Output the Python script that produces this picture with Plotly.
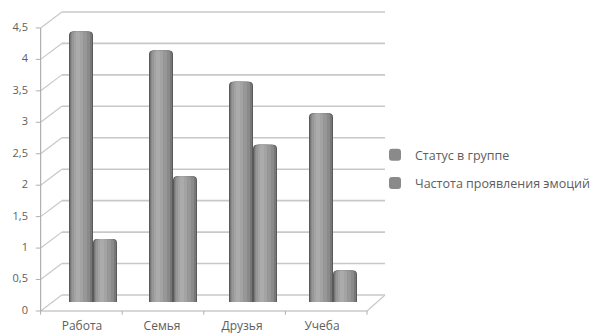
import plotly.graph_objects as go

# Data
categories = ["Работа", "Семья", "Друзья", "Учеба"]
series_names = ["Статус в группе", "Частота проявления эмоций"]
status_values = [4.3, 4.0, 3.5, 3.0]
emotion_values = [1.0, 2.0, 2.5, 0.5]
tick_values = [0, 0.5, 1, 1.5, 2, 2.5, 3, 3.5, 4, 4.5]

# Geometry of the pseudo-3D box (axis units)
PX_X = 80.0      # pixels per category
PX_Y = 62.9      # pixels per value unit
ZERO_PX = 302    # pixel row of the value 0 at bar depth
FRONT_X0, FRONT_X1 = -0.655, 3.425
BACK_X0, BACK_X1 = -0.39, 3.65
FRONT_DY, BACK_DY = -0.143, 0.111
BAR_W = 0.3

GRID = "#c8c8c8"
AXIS = "#b0b0b0"
TEXT = "#5e5e5e"
FONT = "Open Sans"

# Cylinder shading: (left inset px, right inset px, colour)
layers = [
    (0, 0, "#5a5a5a"),
    (1, 1, "#777777"),
    (2, 3, "#8a8a8a"),
    (3, 6, "#979797"),
    (5, 10, "#a3a3a3"),
    (7, 13, "#ababab"),
]
LEGEND_LAYER = 2

fig = go.Figure()
x_pos = list(range(len(categories)))
for s, (name, vals) in enumerate(zip(series_names, [status_values, emotion_values])):
    base_off = -BAR_W if s == 0 else 0.0
    for i, (li, ri, col) in enumerate(layers):
        off = base_off + li / PX_X
        w = BAR_W - (li + ri) / PX_X
        fig.add_trace(go.Bar(
            x=x_pos, y=vals, name=name,
            offset=off, width=w,
            marker=dict(color=col, line=dict(width=0),
                        cornerradius=max(1, 4 - i // 2)),
            legendgroup=f"s{s}",
            showlegend=(i == LEGEND_LAYER),
            hoverinfo="skip" if i != LEGEND_LAYER else None,
        ))

shapes = []
def line(x0, y0, x1, y1, color, width=1.2):
    shapes.append(dict(type="line", xref="x", yref="y", x0=x0, y0=y0,
                       x1=x1, y1=y1, layer="below",
                       line=dict(color=color, width=width)))

for v in tick_values:
    line(BACK_X0, v + BACK_DY, BACK_X1, v + BACK_DY, GRID, 1.6)
    line(FRONT_X0, v + FRONT_DY, BACK_X0, v + BACK_DY, GRID, 1.2)
    line(FRONT_X0 - 0.06, v + FRONT_DY, FRONT_X0, v + FRONT_DY, AXIS, 1)

# front value axis and floor
line(FRONT_X0, FRONT_DY, FRONT_X0, tick_values[-1] + FRONT_DY, AXIS, 1.2)
line(FRONT_X0, FRONT_DY, FRONT_X1, FRONT_DY, AXIS, 1.2)
line(FRONT_X1, FRONT_DY, BACK_X1, BACK_DY, GRID, 1.2)
n = len(categories)
for k in range(n + 1):
    xk = FRONT_X0 + k * (FRONT_X1 - FRONT_X0) / n
    line(xk, FRONT_DY, xk, FRONT_DY - 0.06, AXIS, 1)

L, R, T, B = 33, 386, 5, 317
W, H = 596, 334
x_lo = (L - 93) / PX_X
x_hi = (R - 93) / PX_X
y_hi = (ZERO_PX - T) / PX_Y
y_lo = (ZERO_PX - B) / PX_Y

fig.update_layout(
    width=W, height=H,
    margin=dict(l=L, r=W - R, t=T, b=H - B, pad=0, autoexpand=False),
    paper_bgcolor="white", plot_bgcolor="white",
    barmode="overlay",
    separators=", ",
    font=dict(family=FONT, size=11, color=TEXT),
    shapes=shapes,
    showlegend=True,
    legend=dict(x=(375 - L) / (R - L), y=(B - 140) / (B - T),
                xanchor="left", yanchor="top",
                bgcolor="rgba(0,0,0,0)", tracegroupgap=9,
                font=dict(family=FONT, size=12.5, color=TEXT)),
    xaxis=dict(range=[x_lo, x_hi], tickvals=x_pos, ticktext=categories,
               showgrid=False, zeroline=False, showline=False, ticks="",
               automargin=False,
               ticklabelshift=-11, ticklabelstandoff=0,
               tickfont=dict(size=12, color=TEXT)),
    yaxis=dict(range=[y_lo, y_hi], tickvals=tick_values,
               showgrid=False, zeroline=False, showline=False, ticks="",
               automargin=False,
               ticklabelshift=8, ticklabelstandoff=4,
               tickfont=dict(size=11, color=TEXT)),
)

fig.write_html("out.html")
